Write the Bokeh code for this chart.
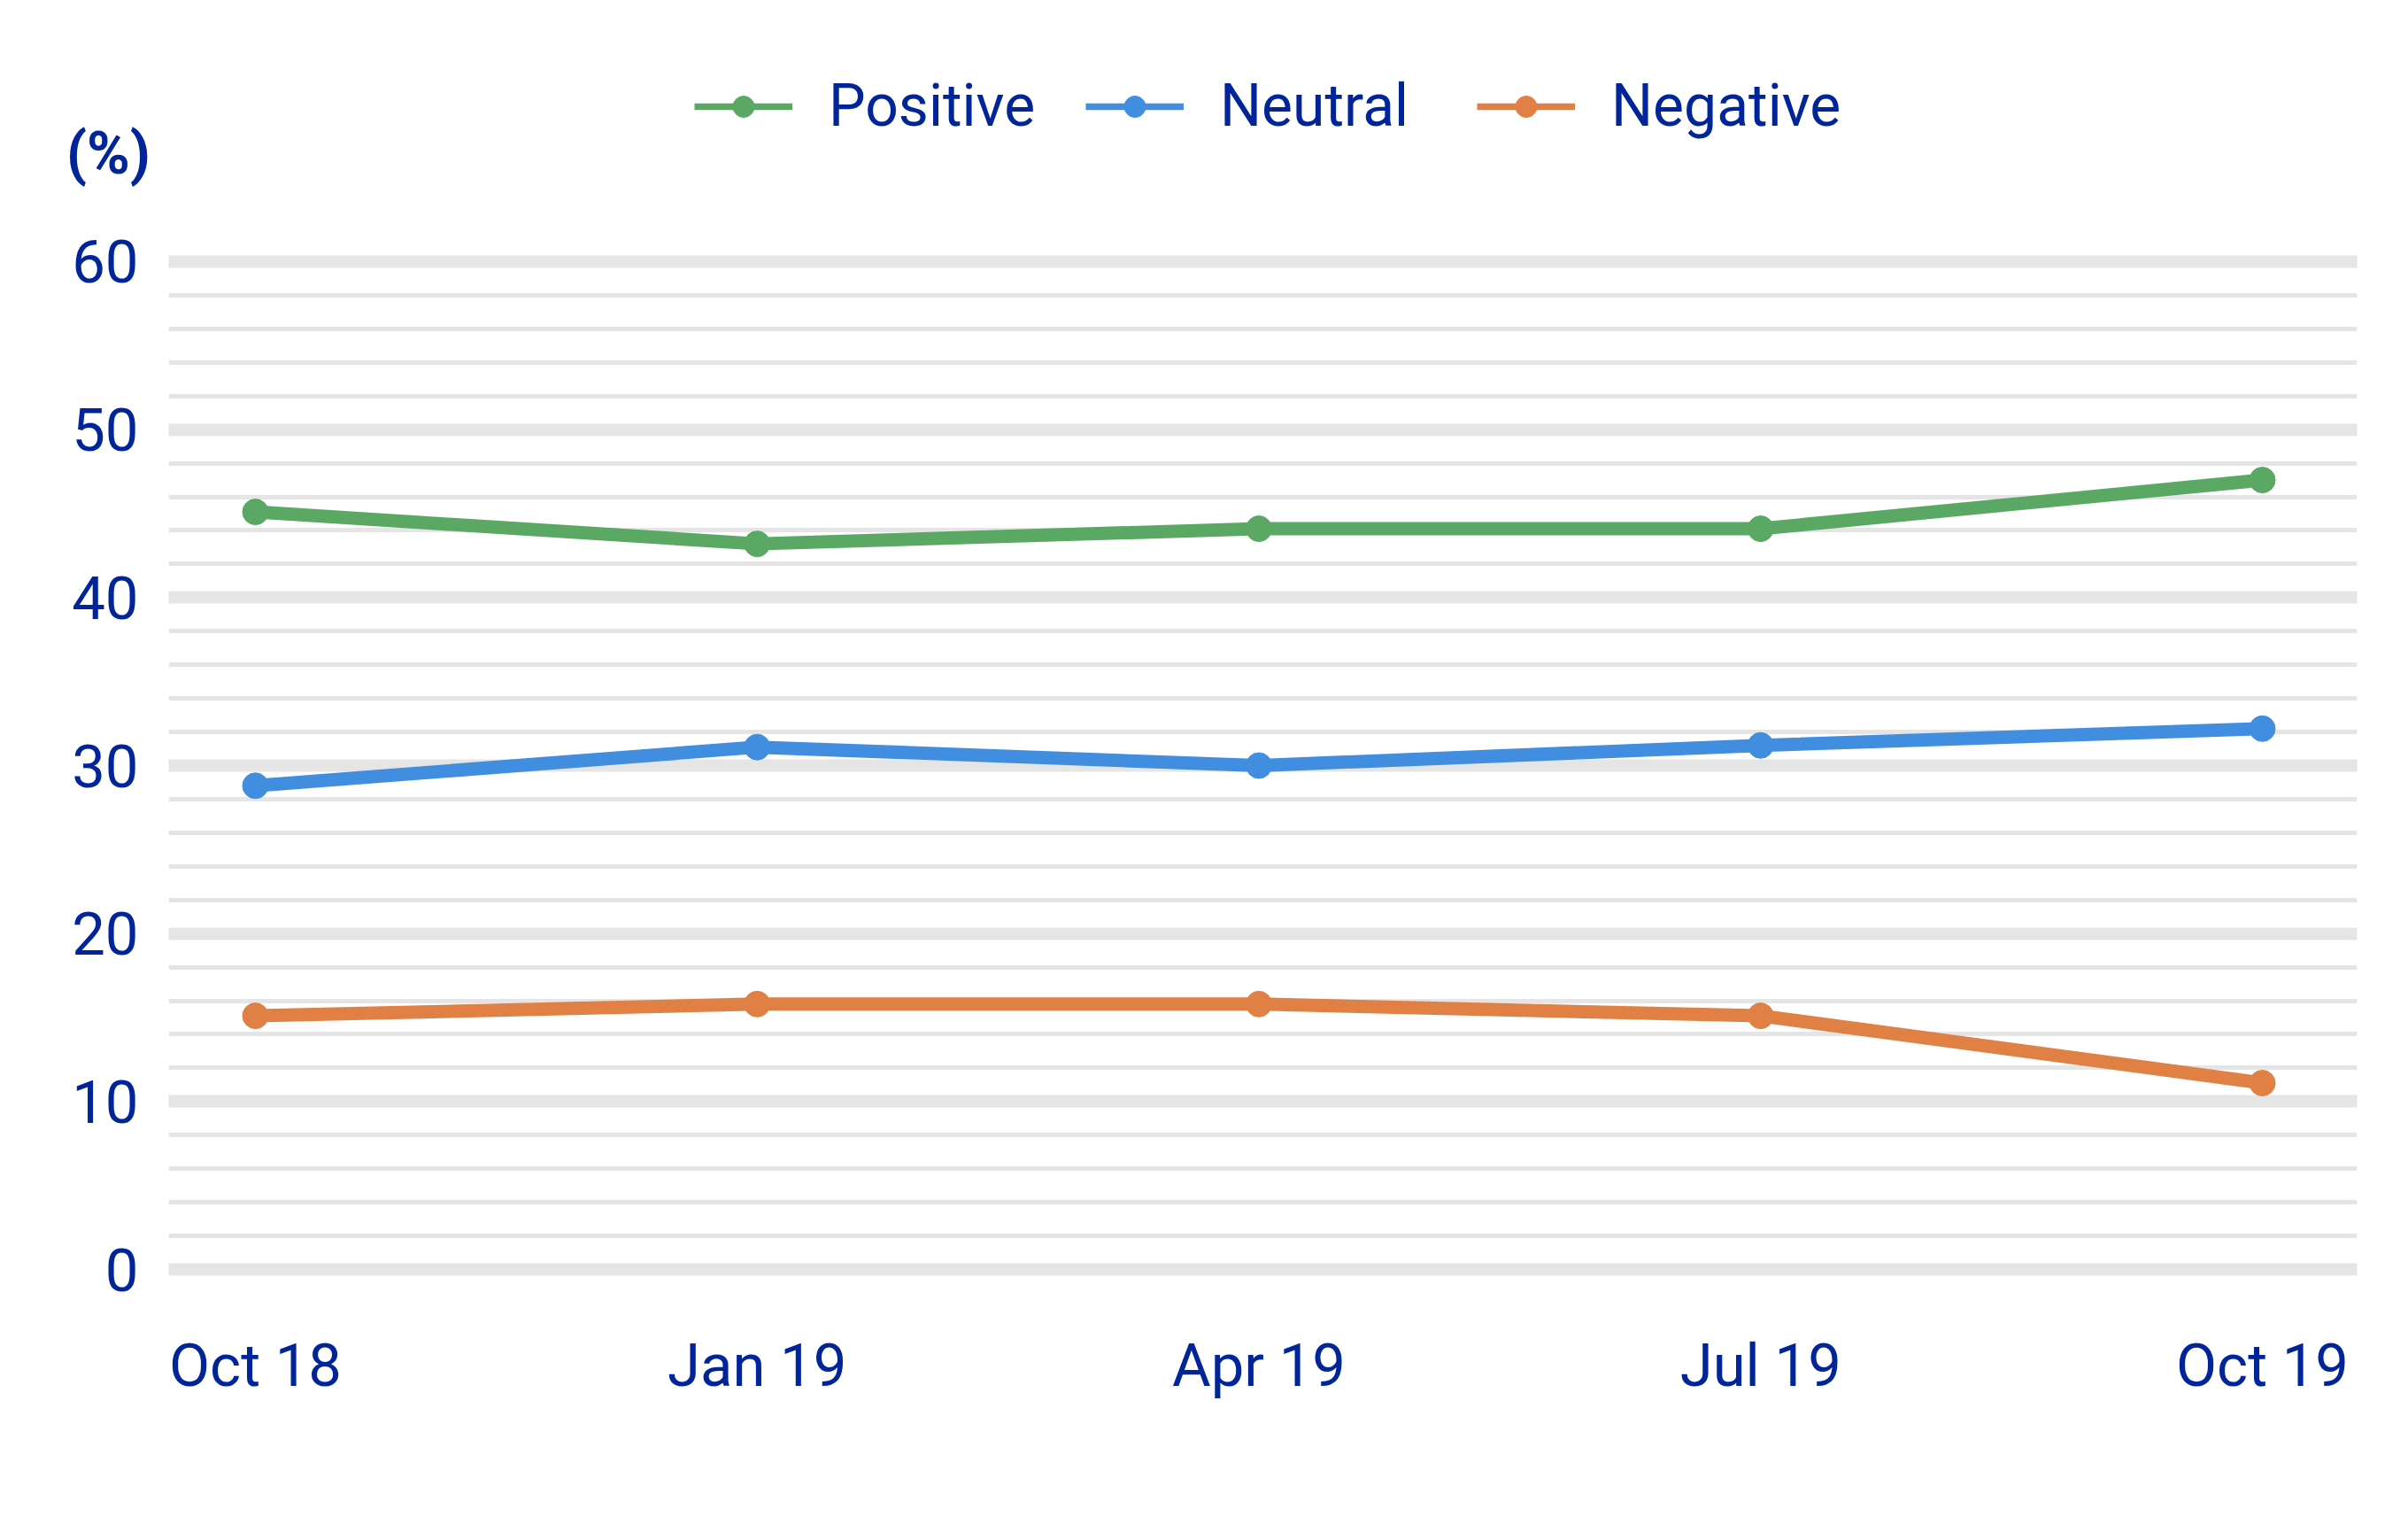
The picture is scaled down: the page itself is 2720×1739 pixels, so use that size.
from bokeh.plotting import figure
from bokeh.models import Legend, LegendItem, FixedTicker, Range1d, Label
from bokeh.layouts import column, row
from bokeh.embed import file_html
from bokeh.resources import INLINE

# ---- data ----
categories = ["Oct 18", "Jan 19", "Apr 19", "Jul 19", "Oct 19"]
positive = [45.1, 43.2, 44.1, 44.1, 47.0]
neutral = [28.8, 31.1, 30.0, 31.2, 32.2]
negative = [15.1, 15.8, 15.8, 15.1, 11.1]
y_ticks = [0, 10, 20, 30, 40, 50, 60]
series_names = ["Positive", "Neutral", "Negative"]
series_values = [positive, neutral, negative]
colors = ["#5aa864", "#418ee0", "#e08044"]
unit_label = "(%)"

TEXT = "#00249a"
FONT = "Roboto"
GRID = "#e5e5e5"
W = 2704
LEFT = 190
HEADER_H = 230
MAIN_H = 1490

xs = list(range(len(categories)))


def blank(width, height):
    f = figure(width=width, height=height, x_range=Range1d(0, 1), y_range=Range1d(0, 1),
               output_backend="svg", toolbar_location=None,
               x_axis_type=None, y_axis_type=None,
               min_border_left=0, min_border_right=0, min_border_top=0, min_border_bottom=0)
    f.outline_line_color = None
    f.xgrid.visible = False
    f.ygrid.visible = False
    return f


# ---- header: unit label (left) + legend ----
lab = blank(LEFT, HEADER_H)
lab.add_layout(Label(x=122, y=HEADER_H - 173, x_units="screen", y_units="screen",
                     text=unit_label, text_font=FONT, text_font_style="bold",
                     text_font_size="66px", text_color=TEXT,
                     text_align="center", text_baseline="middle"))

leg = blank(W - LEFT, HEADER_H)
items = []
for name, c in zip(series_names, colors):
    lr = leg.line([0, 1], [-100, -100], line_color=c, line_width=7.5)
    sr = leg.scatter([0], [-100], size=24, color=c)
    items.append(LegendItem(label=name, renderers=[lr, sr]))

legend = Legend(items=items, orientation="horizontal", location=(784 - LEFT, 72),
                glyph_width=111, glyph_height=60, label_standoff=41,
                label_width=270, label_height=60, spacing=20, padding=0, margin=0,
                border_line_color=None, background_fill_alpha=0,
                label_text_font=FONT, label_text_font_size="66px",
                label_text_color=TEXT)
leg.add_layout(legend)

# ---- main chart ----
p = figure(width=W, height=MAIN_H,
           x_range=Range1d(-0.1729, 4.1888), y_range=Range1d(-1, 61),
           output_backend="svg", toolbar_location=None,
           min_border_left=LEFT, min_border_right=42,
           min_border_top=46, min_border_bottom=268)
p.outline_line_color = None
p.background_fill_color = "white"
p.border_fill_color = "white"

minor = [t + d for t in y_ticks[:-1] for d in (2, 4, 6, 8)]
p.yaxis.ticker = FixedTicker(ticks=y_ticks, minor_ticks=minor)
p.xaxis.ticker = FixedTicker(ticks=xs)
p.xaxis.major_label_overrides = {i: c for i, c in enumerate(categories)}

p.xgrid.visible = False
p.ygrid.grid_line_color = GRID
p.ygrid.grid_line_width = 14
p.ygrid.grid_line_cap = "round"
p.ygrid.minor_grid_line_color = GRID
p.ygrid.minor_grid_line_width = 5

for ax in (p.xaxis, p.yaxis):
    ax.axis_line_color = None
    ax.major_tick_line_color = None
    ax.minor_tick_line_color = None
    ax.major_label_text_font = FONT
    ax.major_label_text_font_size = "67px"
    ax.major_label_text_color = TEXT
p.yaxis.major_label_standoff = 28
p.xaxis.major_label_standoff = 44

for name, vals, c in zip(series_names, series_values, colors):
    p.line(xs, vals, line_color=c, line_width=15, line_join="round", line_cap="round")
    p.scatter(xs, vals, size=29, color=c)

layout = column(row(lab, leg, spacing=0), p, spacing=0)
open("out.html", "w").write(file_html(layout, INLINE))
